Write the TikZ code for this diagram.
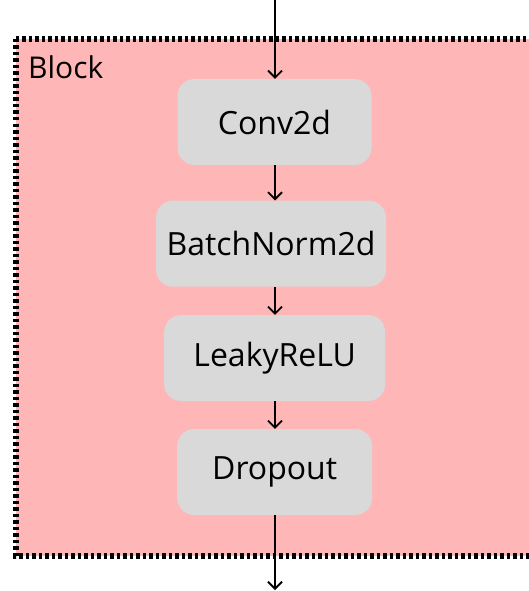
\documentclass[tikz,border=0pt]{standalone}
\usepackage{fontspec}
\setmainfont{Open Sans}
\usetikzlibrary{arrows.meta}
\definecolor{blockpink}{RGB}{255,182,182}
\definecolor{layergray}{RGB}{217,217,217}
\tikzset{
	layer/.style={fill=layergray, rounded corners=17pt, inner xsep=0pt, minimum height=86pt, font=\fontsize{32}{38}\selectfont},
	flow/.style={-{Straight Barb[length=7pt,width=14pt]}, line width=1.8pt},
}
\begin{document}
\begin{tikzpicture}[x=1pt,y=-1pt]
	% canvas: 529 x 591, y runs downwards
	\useasboundingbox (0,0) rectangle (529,591);
	% block frame (runs off to the right)
	\fill[blockpink] (16,39) rectangle (560,556);
	\draw[line width=6pt, dash pattern=on 3.5pt off 3pt] (16,39) rectangle (560,556);
	\node[anchor=base west, inner sep=0pt, font=\fontsize{30}{36}\selectfont] (blocklabel) at (28,79) {Block};
	
	% layers
	\node[layer, minimum width=194pt] (conv) at (274.5,122) {Conv2d};
	\node[layer, minimum width=230pt] (bnorm) at (271,243.7) {BatchNorm2d};
	\node[layer, minimum width=221pt] (lrelu) at (274.7,358) {LeakyReLU};
	\node[layer, minimum width=195pt] (drop) at (274.7,472) {Dropout};
	
	% data flow
	\coordinate (in) at (275,0);
	\coordinate (out) at (275,590);
	\draw[flow] (in) -- (in |- conv.north);
	\draw[flow] (conv.south -| in) -- (bnorm.north -| in);
	\draw[flow] (bnorm.south -| in) -- (lrelu.north -| in);
	\draw[flow] (lrelu.south -| in) -- (drop.north -| in);
	\draw[flow] (drop.south -| in) -- (out);
\end{tikzpicture}
\end{document}
